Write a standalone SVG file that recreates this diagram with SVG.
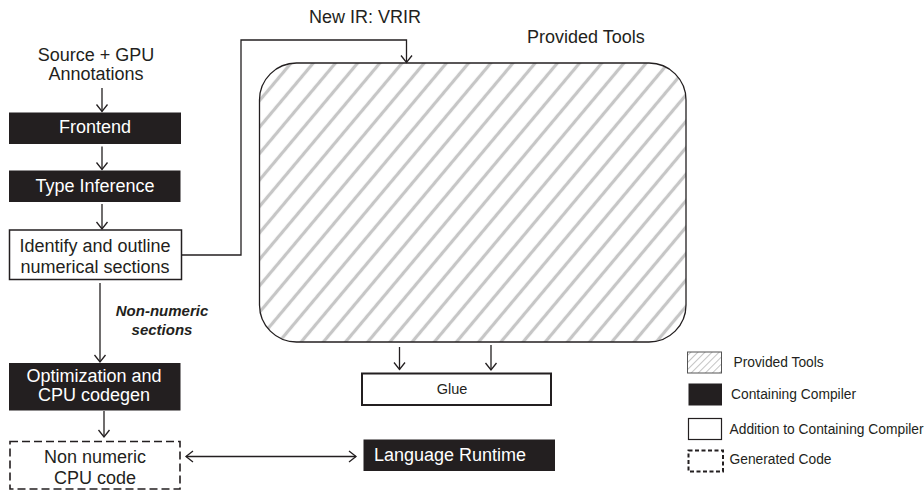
<svg xmlns="http://www.w3.org/2000/svg" width="924" height="494" viewBox="0 0 924 494">
  <defs>
    <!-- diagonal grey hatching for the provided-tools region -->
    <pattern id="hatch" patternUnits="userSpaceOnUse" width="17" height="17" patternTransform="rotate(40)">
      <rect width="17" height="17" fill="#ffffff"/>
      <line x1="8.5" y1="0" x2="8.5" y2="17" stroke="#c6c6c6" stroke-width="3.2"/>
    </pattern>
    <pattern id="hatchSmall" patternUnits="userSpaceOnUse" width="5" height="5" patternTransform="rotate(45)">
      <rect width="5" height="5" fill="#ffffff"/>
      <line x1="2.5" y1="0" x2="2.5" y2="5" stroke="#c4c4c4" stroke-width="1"/>
    </pattern>
    <marker id="arrow" markerUnits="userSpaceOnUse" markerWidth="16" markerHeight="16" viewBox="-10 -8 12 16" refX="0" refY="0" orient="auto-start-reverse">
      <path d="M-7,-5.5 L0,0 L-7,5.5" fill="none" stroke="#231f20" stroke-width="1.3"/>
    </marker>
  </defs>
  <style>
    text { font-family: "Liberation Sans", Arial, sans-serif; fill: #231f20; }
    .dark { fill: #231f20; }
    .dark-label { fill: #ffffff; font-size: 18px; text-anchor: middle; }
    .label { font-size: 18px; text-anchor: middle; }
    .open { fill: #ffffff; stroke: #231f20; stroke-width: 1.5; }
    .dashed { fill: #ffffff; stroke: #231f20; stroke-width: 1.6; stroke-dasharray: 8 4; }
    .conn { fill: none; stroke: #231f20; stroke-width: 1.3; }
    .legend { font-size: 13.8px; }
  </style>

  <rect width="924" height="494" fill="#ffffff"/>

  <!-- free-standing labels -->
  <g id="source">
    <text class="label" x="96" y="61">Source + GPU</text>
    <text class="label" x="96" y="80">Annotations</text>
  </g>
  <text x="309" y="23" style="font-size:18px">New IR: VRIR</text>
  <text x="527" y="43" style="font-size:18px">Provided Tools</text>

  <!-- provided tools region -->
  <g id="provided-tools">
    <rect x="259.5" y="63" width="426.5" height="279" rx="37" ry="37" fill="url(#hatch)" stroke="#231f20" stroke-width="1.3"/>
  </g>

  <!-- compiler pipeline -->
  <g id="frontend">
    <rect class="dark" x="9" y="112.5" width="172" height="31.5"/>
    <text class="dark-label" x="95" y="133">Frontend</text>
  </g>
  <g id="type-inference">
    <rect class="dark" x="9" y="170.5" width="171.5" height="31.5"/>
    <text class="dark-label" x="95" y="192">Type Inference</text>
  </g>
  <g id="identify">
    <rect class="open" x="9.5" y="230" width="172" height="49.5"/>
    <text class="label" x="95" y="252">Identify and outline</text>
    <text class="label" x="95" y="272.5">numerical sections</text>
  </g>
  <g id="optimization">
    <rect class="dark" x="9" y="363" width="171.5" height="47.5"/>
    <text class="dark-label" x="94" y="382">Optimization and</text>
    <text class="dark-label" x="94" y="401">CPU codegen</text>
  </g>
  <g id="cpu-code">
    <rect class="dashed" x="10" y="441.5" width="170" height="47.5"/>
    <text class="label" x="95" y="463">Non numeric</text>
    <text class="label" x="95" y="483.5">CPU code</text>
  </g>
  <g id="glue">
    <rect x="362" y="373.5" width="189" height="31.5" fill="#ffffff" stroke="#231f20" stroke-width="2"/>
    <text x="452" y="394" style="font-size:14.5px" text-anchor="middle">Glue</text>
  </g>
  <g id="runtime">
    <rect class="dark" x="363.5" y="439.5" width="191.5" height="31.5"/>
    <text x="374" y="461" style="font-size:18px;fill:#ffffff">Language Runtime</text>
  </g>

  <!-- connectors -->
  <g id="connectors">
    <line class="conn" x1="102" y1="88" x2="102" y2="111.5" marker-end="url(#arrow)"/>
    <line class="conn" x1="102" y1="146.5" x2="102" y2="169.5" marker-end="url(#arrow)"/>
    <line class="conn" x1="102" y1="204" x2="102" y2="229" marker-end="url(#arrow)"/>
    <polyline class="conn" points="181.5,255 241,255 241,40 406.5,40 406.5,62.5" marker-end="url(#arrow)"/>
    <line class="conn" x1="100" y1="283" x2="100" y2="362" marker-end="url(#arrow)"/>
    <line class="conn" x1="104" y1="411" x2="104" y2="437" marker-end="url(#arrow)"/>
    <line class="conn" x1="399.5" y1="347" x2="399.5" y2="369.5" marker-end="url(#arrow)"/>
    <line class="conn" x1="491" y1="345" x2="491" y2="370" marker-end="url(#arrow)"/>
    <line class="conn" x1="186" y1="456.5" x2="356" y2="456.5" marker-start="url(#arrow)" marker-end="url(#arrow)"/>
    <text x="162" y="316" style="font-size:15px;font-weight:bold;font-style:italic" text-anchor="middle">Non-numeric</text>
    <text x="162" y="335" style="font-size:15px;font-weight:bold;font-style:italic" text-anchor="middle">sections</text>
  </g>

  <!-- legend -->
  <g id="legend">
    <rect x="687.5" y="352" width="34" height="21" fill="url(#hatchSmall)" stroke="#555555" stroke-width="1"/>
    <text class="legend" x="733.5" y="366.5">Provided Tools</text>
    <rect class="dark" x="688.5" y="383.5" width="33.5" height="22"/>
    <text class="legend" x="731" y="399">Containing Compiler</text>
    <rect x="688.5" y="418.5" width="33" height="21" fill="#ffffff" stroke="#231f20" stroke-width="1.2"/>
    <text class="legend" x="729.5" y="434">Addition to Containing Compiler</text>
    <rect x="688.5" y="450.5" width="34.5" height="21" fill="#ffffff" stroke="#231f20" stroke-width="2" stroke-dasharray="4 2.5"/>
    <text class="legend" x="729.5" y="464">Generated Code</text>
  </g>
</svg>
